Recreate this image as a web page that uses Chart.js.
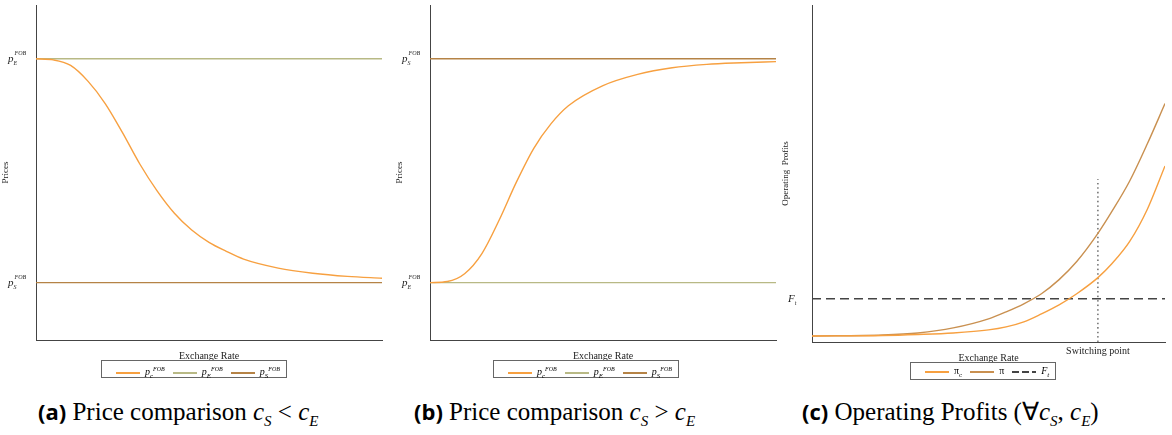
<!DOCTYPE html>
<html><head><meta charset="utf-8">
<script src="https://cdn.jsdelivr.net/npm/chart.js@4/dist/chart.umd.min.js"></script>
<style>
body{margin:0;background:#fff;font-family:"Liberation Serif",serif;}
.box{position:absolute;}
.leg{position:absolute;border:1px solid #666;font-size:10px;height:16px;line-height:16px;padding:0 6px;white-space:nowrap;font-style:italic;}
.leg span.l{display:inline-block;width:24px;height:2px;vertical-align:middle;margin:0 5px 0 8px;}
.cap{position:absolute;top:396px;font-size:25px;white-space:nowrap;}
sup{font-size:6px}sub{font-size:7px}
</style></head><body>
<div class="box" style="left:0;top:0;width:390px;height:362px"><canvas id="ca"></canvas></div>
<div class="box" style="left:394px;top:0;width:390px;height:362px"><canvas id="cb"></canvas></div>
<div class="box" style="left:780px;top:0;width:392px;height:364px"><canvas id="cc"></canvas></div>
<div class="leg" style="left:101px;top:360px"><span class="l" style="background:#f7a040"></span>p<sub>c</sub><sup>FOB</sup><span class="l" style="background:#b8b985"></span>p<sub>E</sub><sup>FOB</sup><span class="l" style="background:#b58346"></span>p<sub>S</sub><sup>FOB</sup></div>
<div class="leg" style="left:493px;top:360px"><span class="l" style="background:#f7a040"></span>p<sub>c</sub><sup>FOB</sup><span class="l" style="background:#b8b985"></span>p<sub>E</sub><sup>FOB</sup><span class="l" style="background:#b58346"></span>p<sub>S</sub><sup>FOB</sup></div>
<div class="leg" style="left:910px;top:362px;font-style:normal"><span class="l" style="background-color:#f7a040"></span>π<sub>c</sub><span class="l" style="background-color:#c99050"></span>π<span class="l" style="background:repeating-linear-gradient(90deg,#444 0 7px,transparent 7px 10px)"></span><i>F<sub>t</sub></i></div>
<div class="cap" style="left:38px"><b style="font-family:'Open Sans',sans-serif;font-size:22px">(a)</b> Price comparison <i>c<sub style="font-size:15px">S</sub></i> &lt; <i>c<sub style="font-size:15px">E</sub></i></div>
<div class="cap" style="left:414px"><b style="font-family:'Open Sans',sans-serif;font-size:22px">(b)</b> Price comparison <i>c<sub style="font-size:15px">S</sub></i> &gt; <i>c<sub style="font-size:15px">E</sub></i></div>
<div class="cap" style="left:802px"><b style="font-family:'Open Sans',sans-serif;font-size:22px">(c)</b> Operating Profits (∀<i>c<sub style="font-size:15px">S</sub></i>, <i>c<sub style="font-size:15px">E</sub></i>)</div>
<script>
// exchange rate grid (share of axis, 0..1)
var rateA = [0, 0.05, 0.1, 0.15, 0.2, 0.25, 0.3, 0.35, 0.4, 0.45, 0.5, 0.55, 0.6, 0.7, 0.8, 0.9, 1];
var pcA   = [1, 0.995, 0.97, 0.9, 0.8, 0.67, 0.53, 0.41, 0.31, 0.235, 0.18, 0.14, 0.105, 0.065, 0.042, 0.028, 0.02];
var rateB = [0, 0.05, 0.1, 0.15, 0.2, 0.25, 0.3, 0.35, 0.4, 0.5, 0.6, 0.7, 0.8, 0.9, 1];
var pcB   = [0, 0.005, 0.04, 0.13, 0.28, 0.45, 0.6, 0.71, 0.79, 0.88, 0.93, 0.96, 0.975, 0.982, 0.987];
var rateC = [0, 0.2, 0.3, 0.4, 0.5, 0.55, 0.6, 0.65, 0.7, 0.75, 0.81, 0.85, 0.9, 0.95, 1];
var piC   = [6, 6.5, 7.5, 9, 12, 15, 20, 28, 37, 48, 64, 78, 100, 132, 175];
var pi    = [6, 7, 9, 14, 23, 30, 38, 48, 62, 80, 108, 130, 160, 197, 237];
var Ft = 43, switchRate = 0.81;

var ORANGE = '#f7a040', GREEN = '#b8b985', BROWN = '#b58346', BROWN2 = '#c99050';

function line(x, y, col, extra) {
  return Object.assign({data: x.map(function (v, i) { return {x: v, y: y[i]}; }),
    borderColor: col, borderWidth: 1.4, pointRadius: 0, cubicInterpolationMode: 'monotone', fill: false}, extra || {});
}

// labels on the y axis drawn at data values
function tickPlugin(labels) {
  return {id: 'tk', afterDraw: function (c) {
    var ctx = c.ctx, ys = c.scales.y;
    ctx.save(); ctx.fillStyle = '#222';
    labels.forEach(function (l) {
      var py = ys.getPixelForValue(l.v);
      ctx.font = 'italic 11px "Liberation Serif"'; ctx.fillText(l.m, 8, py + 3);
      var w = ctx.measureText(l.m).width;
      ctx.font = 'italic 6px "Liberation Serif"';
      if (l.sup) ctx.fillText(l.sup, 8 + w + 1, py - 4);
      ctx.fillText(l.sub, 8 + w, py + 6);
    });
    ctx.restore();
  }};
}

function axes(ymin, ymax, ytitle, xpad) {
  return {
    x: {type: 'linear', min: 0, max: 1, grid: {display: false}, ticks: {display: false},
        border: {color: '#444'},
        title: {display: true, text: 'Exchange Rate', font: {family: 'Liberation Serif', size: 10}, color: '#222', padding: {top: 2, bottom: 0}}},
    y: {min: ymin, max: ymax, grid: {display: false}, ticks: {display: false}, border: {color: '#444'},
        afterFit: function (s) { s.width = xpad; },
        title: {display: true, text: ytitle, font: {family: 'Liberation Serif', size: 9}, color: '#222', padding: 0}}
  };
}
var base = {animation: false, responsive: true, maintainAspectRatio: false,
  plugins: {legend: {display: false}, tooltip: {enabled: false}}, layout: {padding: {top: 5, right: 8, bottom: 0}}};

new Chart(document.getElementById('ca'), {type: 'line',
  data: {datasets: [line(rateA, pcA, ORANGE), line([0, 1], [1, 1], GREEN), line([0, 1], [0, 0], BROWN)]},
  options: Object.assign({}, base, {scales: axes(-0.256, 1.24, 'Prices', 36)}),
  plugins: [tickPlugin([{v: 1, m: 'p', sup: 'FOB', sub: 'E'}, {v: 0, m: 'p', sup: 'FOB', sub: 'S'}])]});

new Chart(document.getElementById('cb'), {type: 'line',
  data: {datasets: [line(rateB, pcB, ORANGE), line([0, 1], [0, 0], GREEN), line([0, 1], [1, 1], BROWN)]},
  options: Object.assign({}, base, {scales: axes(-0.256, 1.24, 'Prices', 36)}),
  plugins: [tickPlugin([{v: 1, m: 'p', sup: 'FOB', sub: 'S'}, {v: 0, m: 'p', sup: 'FOB', sub: 'E'}])]});

var optC = Object.assign({}, base, {scales: axes(0, 335, 'Operating  Profits', 32)});
optC.layout = {padding: {top: 5, right: 7, bottom: 0}};
new Chart(document.getElementById('cc'), {type: 'line',
  data: {datasets: [line(rateC, piC, ORANGE), line(rateC, pi, BROWN2),
    line([0, 1], [Ft, Ft], '#444', {borderDash: [9, 5]}),
    line([switchRate, switchRate], [0, 162], '#222', {borderDash: [1.5, 3], borderWidth: 1})]},
  options: optC,
  plugins: [tickPlugin([{v: Ft, m: 'F', sub: 't'}]), {id: 'sw', afterDraw: function (c) {
    var ctx = c.ctx, px = c.scales.x.getPixelForValue(switchRate);
    ctx.save(); ctx.font = '10px "Liberation Serif"'; ctx.fillStyle = '#222'; ctx.textAlign = 'center';
    ctx.fillText('Switching point', px, c.chartArea.bottom + 12); ctx.restore();
  }}]});
</script>
</body></html>
